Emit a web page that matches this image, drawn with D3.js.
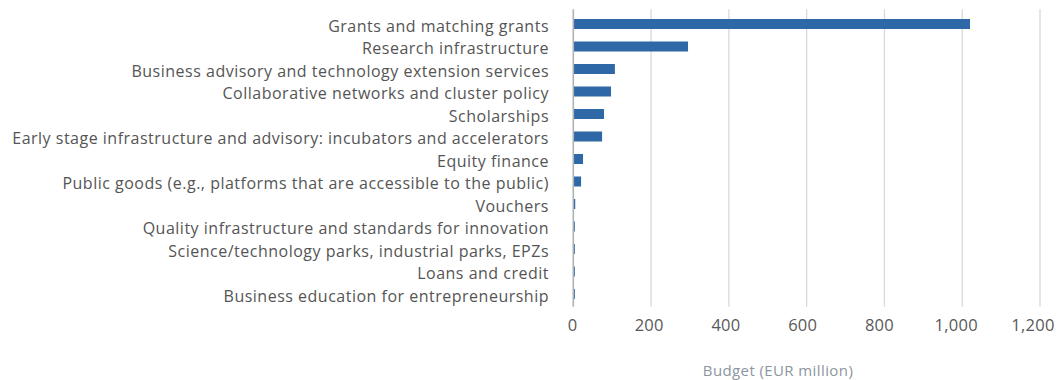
<!DOCTYPE html>
<html>
<head>
<meta charset="utf-8">
<script src="https://cdn.jsdelivr.net/npm/d3@7"></script>
<style>
  html, body { margin: 0; padding: 0; background: #fff; }
  svg { display: block; font-family: "Open Sans", Lato, sans-serif; }
</style>
</head>
<body>
<svg id="chart" width="1061" height="380"></svg>
<script>
// Budget by instrument type (EUR million)
const categories = [
  "Grants and matching grants",
  "Research infrastructure",
  "Business advisory and technology extension services",
  "Collaborative networks and cluster policy",
  "Scholarships",
  "Early stage infrastructure and advisory: incubators and accelerators",
  "Equity finance",
  "Public goods (e.g., platforms that are accessible to the public)",
  "Vouchers",
  "Quality infrastructure and standards for innovation",
  "Science/technology parks, industrial parks, EPZs",
  "Loans and credit",
  "Business education for entrepreneurship"
];
const budget = [1020, 295, 107, 97, 79, 74, 25, 20, 5, 4, 4, 4, 4];
const xTicks = [0, 200, 400, 600, 800, 1000, 1200];
const xTitle = "Budget (EUR million)";

const svg = d3.select("#chart");
const plotLeft = 573.3, plotRight = 1040;
const plotTop = 12.75, plotBottom = 305.25;
const barHeight = 10;

const x = d3.scaleLinear().domain([0, 1200]).range([plotLeft, plotRight]);
// tick labels sit slightly inside their gridlines towards the high end
const xLabel = d3.scaleLinear().domain([0, 1200]).range([572.5, 1033]);
const y = d3.scaleBand().domain(categories).range([plotTop, plotBottom]);
const mid = d => y(d) + y.bandwidth() / 2;

// vertical gridlines
svg.append("g")
  .selectAll("line")
  .data(xTicks.filter(d => d > 0))
  .join("line")
  .attr("x1", d => x(d)).attr("x2", d => x(d))
  .attr("y1", 9.3).attr("y2", 306.7)
  .attr("stroke", "#d9d9d9")
  .attr("stroke-width", 1.3);

// bars
svg.append("g")
  .selectAll("rect")
  .data(categories)
  .join("rect")
  .attr("x", x(0))
  .attr("y", d => mid(d) - barHeight / 2)
  .attr("width", (d, i) => x(budget[i]) - x(0))
  .attr("height", barHeight)
  .attr("fill", "#2e68a6");

// category axis line
svg.append("line")
  .attr("x1", x(0)).attr("x2", x(0))
  .attr("y1", 9.3).attr("y2", 306.7)
  .attr("stroke", "#aeb2b5")
  .attr("stroke-width", 1.6);

// category labels
svg.append("g")
  .selectAll("text")
  .data(categories)
  .join("text")
  .attr("x", 549)
  .attr("y", d => mid(d) + 7.8)
  .attr("text-anchor", "end")
  .attr("font-size", 16)
  .attr("letter-spacing", "0.5px")
  .attr("fill", "#555555")
  .text(d => d);

// value axis tick labels
const fmt = d3.format(",");
svg.append("g")
  .selectAll("text")
  .data(xTicks)
  .join("text")
  .attr("x", d => xLabel(d))
  .attr("y", 330.7)
  .attr("text-anchor", "middle")
  .attr("font-size", 16.5)
  .attr("letter-spacing", "0.3px")
  .attr("fill", "#595959")
  .text(d => fmt(d));

// axis title
svg.append("text")
  .attr("x", 778)
  .attr("y", 375.5)
  .attr("text-anchor", "middle")
  .attr("font-size", 15)
  .attr("letter-spacing", "0.4px")
  .attr("fill", "#8c96a0")
  .text(xTitle);
</script>
</body>
</html>
